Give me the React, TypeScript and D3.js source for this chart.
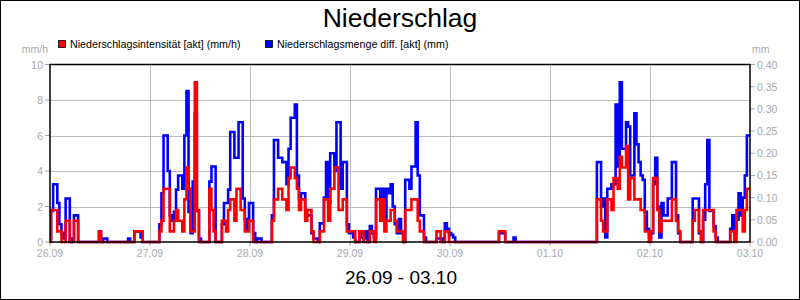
import React from 'react';
import * as d3 from 'd3';

// one value every 30 minutes, 26.09 00:00 .. 03.10 00:00
const slotsPerDay = 48;
const dayLabels = ['26.09', '27.09', '28.09', '29.09', '30.09', '01.10', '02.10', '03.10'];
const leftTicks = [0, 2, 4, 6, 8, 10];
const rightTicks = [0, 0.05, 0.1, 0.15, 0.2, 0.25, 0.3, 0.35, 0.4];

// Niederschlagsintensität [akt] (mm/h)
const intensity = [
  // 26.09
  0, 1.8, 1.8, 1.8, 0.6, 0.6, 0, 0, 1.2, 1.2, 0, 0,
  1.2, 1.2, 0, 0, 0, 0, 0, 0, 0, 0, 0, 0,
  0.6, 0, 0, 0, 0, 0, 0, 0, 0, 0, 0, 0,
  0, 0, 0, 0, 0, 0.6, 0.6, 0.6, 0.6, 0, 0, 0,
  // 27.09
  0, 0, 0, 0, 0, 0.6, 1.2, 3.0, 3.0, 3.0, 0.6, 0.6,
  1.2, 1.8, 1.2, 1.2, 0.6, 2.4, 4.2, 3.0, 0.6, 0.6, 9.0, 1.8,
  0, 0, 0, 0, 0, 3.0, 1.8, 0.6, 0, 0, 0, 1.2,
  1.2, 0.6, 1.8, 2.4, 2.4, 1.2, 3.0, 3.0, 1.8, 1.8, 0.6, 0.6,
  // 28.09
  1.2, 1.2, 0, 0, 0, 0, 0, 0, 0, 0, 0, 1.2,
  2.4, 2.4, 3.0, 3.0, 2.4, 2.4, 1.8, 3.6, 4.2, 4.2, 3.6, 3.0,
  1.8, 2.4, 2.4, 1.2, 1.8, 1.8, 0.6, 0, 0, 0, 0.6, 0.6,
  2.4, 2.4, 1.2, 3.0, 3.0, 4.2, 4.2, 1.8, 1.8, 2.4, 2.4, 0.6,
  // 29.09
  0.6, 0.6, 0.6, 0, 0, 0.6, 0.6, 0, 0, 0, 0.6, 0.6,
  0, 2.4, 2.4, 1.2, 2.4, 0.6, 1.2, 1.2, 1.8, 1.8, 1.2, 0.6,
  0.6, 0.6, 0, 1.8, 1.8, 1.8, 2.4, 2.4, 2.4, 1.2, 0.6, 0.6,
  0, 0, 0, 0, 0, 0, 0.6, 0.6, 0, 0, 0.6, 0.6,
  // 30.09
  0, 0, 0, 0, 0, 0, 0, 0, 0, 0, 0, 0,
  0, 0, 0, 0, 0, 0, 0, 0, 0, 0, 0, 0,
  0.6, 0.6, 0.6, 0, 0, 0, 0, 0, 0, 0, 0, 0,
  0, 0, 0, 0, 0, 0, 0, 0, 0, 0, 0, 0,
  // 01.10
  0, 0, 0, 0, 0, 0, 0, 0, 0, 0, 0, 0,
  0, 0, 0, 0, 0, 0, 0, 0, 0, 0, 0, 2.4,
  2.4, 1.2, 0.6, 0.6, 2.4, 2.4, 1.8, 3.6, 3.6, 3.0, 4.8, 4.2,
  4.2, 5.4, 2.4, 3.6, 3.6, 2.4, 2.4, 2.4, 1.8, 1.8, 0.6, 0.6,
  // 02.10
  0, 0.6, 3.6, 3.6, 1.8, 0.6, 1.2, 1.2, 1.2, 1.2, 1.2, 2.4,
  2.4, 1.2, 0.6, 0, 0, 0, 0, 0, 0, 1.2, 1.8, 1.8,
  0.6, 0, 1.8, 1.8, 1.8, 1.8, 1.8, 0.6, 0, 0, 0, 0,
  0, 0, 0, 0.6, 0.6, 0, 1.8, 1.8, 1.8, 0.6, 1.8, 3.0,
  // 03.10
  3.0,
];

// Niederschlagsmenge diff. [akt] (mm)
const amount = [
  // 26.09
  0.008, 0.07, 0.13, 0.13, 0.088, 0.04, 0.02, 0.008, 0.098, 0.098, 0, 0.008,
  0.06, 0.06, 0, 0, 0, 0, 0, 0, 0, 0, 0, 0,
  0.024, 0, 0.008, 0.008, 0, 0, 0, 0, 0, 0, 0, 0,
  0, 0, 0.008, 0, 0, 0.024, 0.024, 0.024, 0.01, 0, 0, 0,
  // 27.09
  0, 0, 0, 0, 0, 0.04, 0.11, 0.24, 0.24, 0.16, 0.06, 0.048,
  0.068, 0.118, 0.15, 0.15, 0.12, 0.24, 0.34, 0.068, 0.02, 0.136, 0.29, 0.07,
  0.008, 0, 0, 0, 0, 0.136, 0.17, 0.17, 0, 0, 0, 0.04,
  0.088, 0.088, 0.118, 0.248, 0.248, 0.19, 0.19, 0.27, 0.27, 0.098, 0.052, 0.03,
  // 28.09
  0.088, 0.088, 0.02, 0, 0.008, 0.008, 0, 0, 0, 0, 0, 0.06,
  0.23, 0.23, 0.19, 0.19, 0.18, 0.18, 0.13, 0.21, 0.28, 0.28, 0.31, 0.15,
  0.098, 0.11, 0.11, 0.06, 0.06, 0.06, 0.02, 0.008, 0.008, 0, 0.042, 0.042,
  0.1, 0.18, 0.087, 0.2, 0.2, 0.16, 0.27, 0.27, 0.12, 0.18, 0.18, 0.04,
  // 29.09
  0.02, 0.02, 0.01, 0, 0, 0.01, 0.02, 0.008, 0.024, 0, 0.036, 0.02,
  0.01, 0.12, 0.12, 0.08, 0.12, 0.05, 0.12, 0.11, 0.13, 0.08, 0.04, 0.02,
  0.052, 0.02, 0, 0.14, 0.14, 0.12, 0.17, 0.17, 0.27, 0.15, 0.06, 0.06,
  0.01, 0, 0, 0, 0, 0, 0.008, 0.008, 0.008, 0, 0.042, 0.03,
  // 30.09
  0.02, 0.016, 0.01, 0, 0, 0, 0, 0, 0, 0, 0, 0,
  0, 0, 0, 0, 0, 0, 0, 0, 0, 0, 0, 0,
  0.02, 0.024, 0.02, 0, 0, 0, 0, 0.01, 0, 0, 0, 0,
  0, 0, 0, 0, 0, 0, 0, 0, 0, 0, 0, 0,
  // 01.10
  0, 0, 0, 0, 0, 0, 0, 0, 0, 0, 0, 0,
  0, 0, 0, 0, 0, 0, 0, 0, 0, 0, 0, 0.18,
  0.18, 0.08, 0.098, 0.01, 0.12, 0.12, 0.13, 0.13, 0.31, 0.17, 0.36, 0.21,
  0.21, 0.27, 0.26, 0.15, 0.15, 0.29, 0.22, 0.18, 0.15, 0.14, 0.068, 0.03,
  // 02.10
  0.01, 0.02, 0.13, 0.19, 0.08, 0.01, 0.088, 0.06, 0.06, 0.098, 0.098, 0.18,
  0.18, 0.06, 0.02, 0, 0, 0, 0, 0, 0, 0.098, 0.098, 0.098,
  0.02, 0, 0.05, 0.13, 0.23, 0.07, 0.07, 0.036, 0.01, 0, 0, 0,
  0, 0, 0, 0.03, 0.06, 0.02, 0.05, 0.11, 0.06, 0.1, 0.15, 0.24,
  // 03.10
  0.24,
];

const FONT = '"Liberation Sans", Arial, sans-serif';
const GREY = '#a9a9a9';

export default function App() {
  const width = 800;
  const height = 300;
  const left = 50;
  const right = 750;
  const top = 64.5;
  const bottom = 242;

  const x = d3.scaleLinear().domain([0, (dayLabels.length - 1) * slotsPerDay]).range([left, right]);
  const yL = d3.scaleLinear().domain([0, 10]).range([bottom, top]);
  const yR = d3.scaleLinear().domain([0, 0.4]).range([bottom, top]);

  const redLine = d3.line<number>().x((d, i) => x(i)).y(d => yL(d)).curve(d3.curveStep);
  const blueLine = d3.line<number>().x((d, i) => x(i)).y(d => yR(d)).curve(d3.curveStep);

  return (
    <svg width={width} height={height} style={{ position: 'absolute', left: 0, top: 0, display: 'block', background: '#fff' }} fontFamily={FONT}>
      <defs>
        <clipPath id="plot">
          <rect x={left} y={top} width={right - left} height={bottom - top + 2} />
        </clipPath>
      </defs>
      <rect x={0.5} y={0.5} width={width - 1} height={height - 1} fill="#fff" stroke="#000" />

      <text x={400} y={27} textAnchor="middle" fontSize={26.5} fill="#000">Niederschlag</text>

      {/* legend */}
      <rect x={58.5} y={40.5} width={7} height={7} fill="#ff0000" stroke="#000" strokeWidth={0.8} />
      <text x={70} y={48} fontSize={10.7} fill="#000">Niederschlagsintensität [akt] (mm/h)</text>
      <rect x={265.5} y={40.5} width={7} height={7} fill="#0000ff" stroke="#000" strokeWidth={0.8} />
      <text x={277} y={48} fontSize={10.7} fill="#000">Niederschlagsmenge diff. [akt] (mm)</text>

      {/* grid */}
      {leftTicks.slice(1, -1).map(t => (
        <line key={'gy' + t} x1={left} x2={right} y1={Math.round(yL(t)) + 0.5} y2={Math.round(yL(t)) + 0.5} stroke="#bdbdbd" />
      ))}
      {dayLabels.slice(1, -1).map((d, i) => (
        <line key={'gx' + d} x1={Math.round(x((i + 1) * slotsPerDay)) + 0.5} x2={Math.round(x((i + 1) * slotsPerDay)) + 0.5} y1={top} y2={bottom} stroke="#bdbdbd" />
      ))}

      {/* axes labels */}
      <text x={48} y={53} textAnchor="end" fontSize={10.5} fill={GREY}>mm/h</text>
      <text x={752} y={53} fontSize={10.5} fill={GREY}>mm</text>
      {leftTicks.map(t => (
        <g key={'yl' + t}>
          <line x1={45} x2={50} y1={yL(t)} y2={yL(t)} stroke={GREY} />
          <text x={43} y={yL(t) + 4} textAnchor="end" fontSize={10.5} fill={GREY}>{t}</text>
        </g>
      ))}
      {rightTicks.map(t => (
        <g key={'yr' + t}>
          <line x1={750} x2={755} y1={yR(t)} y2={yR(t)} stroke={GREY} />
          <text x={757} y={yR(t) + 4} fontSize={10.5} fill={GREY}>{t.toFixed(2)}</text>
        </g>
      ))}
      {dayLabels.map((d, i) => (
        <g key={'xl' + d}>
          <line x1={x(i * slotsPerDay)} x2={x(i * slotsPerDay)} y1={bottom} y2={bottom + 4} stroke={GREY} />
          <text x={x(i * slotsPerDay)} y={257} textAnchor="middle" fontSize={10.5} fill={GREY}>{d}</text>
        </g>
      ))}

      {/* series */}
      <g clipPath="url(#plot)">
        <path d={blueLine(amount) || ''} fill="none" stroke="#0000ff" strokeWidth={2.6} strokeLinejoin="miter" />
        <path d={redLine(intensity) || ''} fill="none" stroke="#ff0000" strokeWidth={2.6} strokeLinejoin="miter" />
      </g>

      <rect x={left} y={top} width={right - left} height={bottom - top} fill="none" stroke="#000" strokeWidth={1.5} />

      <text x={401} y={284} textAnchor="middle" fontSize={19} fill="#000">{`${dayLabels[0]} - ${dayLabels[dayLabels.length - 1]}`}</text>
    </svg>
  );
}
